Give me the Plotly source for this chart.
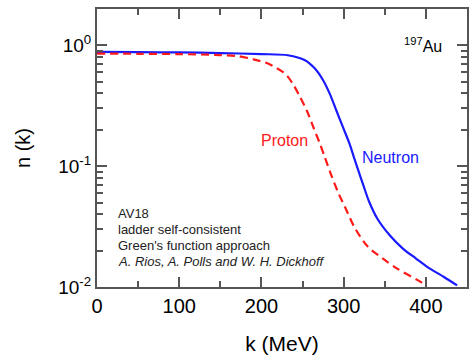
import plotly.graph_objects as go

# Data
k_neutron = [0, 50, 100, 150, 200, 232, 253, 265, 275, 283, 291, 299, 307, 312, 318, 324, 331,
             341, 356, 372, 388, 402, 422, 438]
n_neutron = [0.88, 0.877, 0.872, 0.862, 0.845, 0.827, 0.751, 0.641, 0.513, 0.398, 0.290, 0.211,
             0.154, 0.121, 0.0912, 0.0692, 0.0507, 0.0367, 0.0268, 0.0208, 0.0172, 0.0146, 0.0121, 0.0103]
k_proton = [0, 50, 100, 150, 172, 190, 208, 226, 232, 239, 247, 255, 263, 271, 277, 285, 293, 303, 313,
            329, 347, 365, 390, 396]
n_proton = [0.853, 0.85, 0.845, 0.83, 0.811, 0.766, 0.706, 0.601, 0.55, 0.47, 0.373, 0.290, 0.211, 0.154,
            0.119, 0.084, 0.0612, 0.0437, 0.0313, 0.0217, 0.0173, 0.0142, 0.0114, 0.0108]
y_tickvals = [0.01, 0.1, 1]
y_ticktext = ["10<sup>-2</sup>", "10<sup>-1</sup>", "10<sup>0</sup>"]
y_minorvals = [0.02, 0.03, 0.04, 0.05, 0.06, 0.07, 0.08, 0.09,
               0.2, 0.3, 0.4, 0.5, 0.6, 0.7, 0.8, 0.9, 2]
x_tickvals = [0, 100, 200, 300, 400]
x_minorvals = [50, 150, 250, 350, 450]

FONT = "Liberation Sans, Arial, sans-serif"
AXC = "#555555"

fig = go.Figure()
fig.add_trace(go.Scatter(x=k_neutron, y=n_neutron, mode="lines",
                         line=dict(color="#1a1aff", width=2.2, shape="spline", smoothing=0.8), name="Neutron"))
fig.add_trace(go.Scatter(x=k_proton, y=n_proton, mode="lines",
                         line=dict(color="#ff1a1a", width=2.2, dash="8px,5px", shape="spline", smoothing=0.8), name="Proton"))

fig.update_layout(
    width=469, height=355,
    margin=dict(l=97, r=0, t=9, b=68),
    paper_bgcolor="white", plot_bgcolor="white",
    showlegend=False,
    font=dict(family=FONT, color="black"),
)
fig.update_xaxes(
    range=[0, 450], tickvals=x_tickvals, ticks="inside", ticklen=10, tickwidth=1.5, tickcolor=AXC,
    showline=True, linecolor=AXC, linewidth=2, mirror="allticks", showgrid=False, zeroline=False,
    tickfont=dict(size=20), title=dict(text="k (MeV)", font=dict(size=21), standoff=22),
    minor=dict(tickvals=x_minorvals, ticks="inside", ticklen=6, tickwidth=1.5, tickcolor=AXC, showgrid=False),
)
fig.update_yaxes(
    type="log", range=[-2, 0.3], tickvals=y_tickvals, ticktext=y_ticktext, ticks="inside", ticklen=10, tickwidth=1.5,
    tickcolor=AXC, showline=True, linecolor=AXC, linewidth=2, mirror="allticks", showgrid=False, zeroline=False,
    tickfont=dict(size=19), title=dict(text="n (k)", font=dict(size=20), standoff=22),
    minor=dict(tickvals=y_minorvals, ticks="inside", ticklen=6, tickwidth=1.5, tickcolor=AXC, showgrid=False),
)

def px_x(x):
    return (x - 97) / 372

def px_y(y):
    return (287 - y) / 278

fig.add_annotation(xref="paper", yref="paper", x=px_x(286), y=px_y(140), xanchor="center", yanchor="middle",
                   text="Proton", showarrow=False, font=dict(size=16, color="#ff1a1a"))
fig.add_annotation(xref="paper", yref="paper", x=px_x(392), y=px_y(157), xanchor="center", yanchor="middle",
                   text="Neutron", showarrow=False, font=dict(size=16, color="#1a1aff"))
fig.add_annotation(xref="paper", yref="paper", x=px_x(446), y=px_y(45), xanchor="right", yanchor="middle",
                   text="<sup>197</sup>Au", showarrow=False, font=dict(size=16, color="black"))
lines = ["AV18", "ladder self-consistent", "Green's function approach", "<i>A. Rios, A. Polls and W. H. Dickhoff</i>"]
ys = [213, 229, 245, 261]
for t, yy in zip(lines, ys):
    fig.add_annotation(xref="paper", yref="paper", x=px_x(116), y=px_y(yy), xanchor="left",
                       yanchor="middle", text=t, showarrow=False, font=dict(size=13, color="#222222"))

fig.write_html("out.html")
